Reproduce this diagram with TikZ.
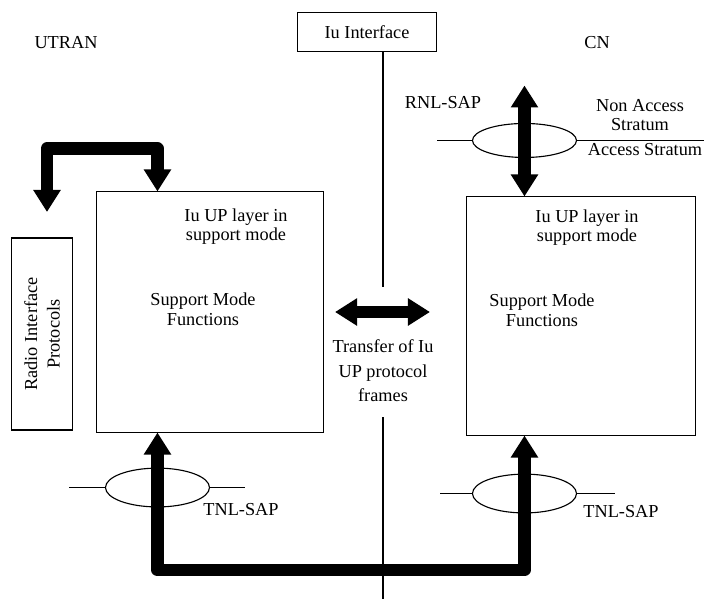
\documentclass[tikz,border=0pt]{standalone}
\usepackage{fontspec}
\setmainfont{Liberation Serif}
\usetikzlibrary{arrows.meta,positioning,calc,shapes.geometric}

\begin{document}
\begin{tikzpicture}[
  x=0.025cm, y=-0.025cm,
  font=\fontsize{13}{15}\selectfont,
  box/.style={draw,line width=0.7pt,inner sep=0pt},
  frame/.style={draw,line width=1.1pt,inner sep=2pt,align=center},
  sap/.style={draw,ellipse,line width=0.8pt,minimum width=2.6cm,minimum height=0.97cm,inner sep=0pt},
  lbl/.style={align=center,inner sep=0pt,font=\fontsize{13}{14}\selectfont},
  fat/.style={line width=0.31cm,line join=round,<->,>={Triangle[length=0.55cm,width=0.65cm]}},
  iface/.style={line width=0.8pt},
]
\useasboundingbox (0,0) rectangle (704,599);
% domains and interface
\node (utran) at (66,43) {UTRAN};
\node (cn) at (597,43) {CN};
\node[frame,minimum width=3.47cm,minimum height=0.97cm] (iu) at (367,32) {Iu Interface};
\coordinate (ifa) at (383,287);
\coordinate (ifb) at (383,417);
\coordinate (ifc) at (383,599);
\draw[iface] (iu.south -| ifa) -- (ifa);
\draw[iface] (ifb) -- (ifc);
% layer boxes
\node[box,minimum width=5.65cm,minimum height=6cm] (utranbox) at (210,312) {};
\node[box,minimum width=5.7cm,minimum height=5.95cm] (cnbox) at (581,316) {};
\node[frame,rotate=90,minimum width=4.8cm,minimum height=1.52cm,font=\fontsize{13}{16}\selectfont] (rip) at (42,334) {Radio Interface\\Protocols};
\node[lbl] (ulayer) at ($(utranbox.north)+(26,35)$) {Iu UP layer in\\support mode};
\node[lbl] (ufunc) at ($(utranbox.north)+(-7,118)$) {Support Mode\\Functions};
\node[lbl] (clayer) at ($(cnbox.north)+(6,31)$) {Iu UP layer in\\support mode};
\node[lbl] (cfunc) at ($(cnbox.north)+(-39,114)$) {Support Mode\\Functions};
% access points
\coordinate (ua) at ($(utranbox.north west)+(61,0)$);
\coordinate (ub) at ($(utranbox.south west)+(61,0)$);
\coordinate (ca) at ($(cnbox.north west)+(58,0)$);
\coordinate (cb) at ($(cnbox.south west)+(58,0)$);
\node[sap,minimum height=0.85cm] (rnl) at ($(ca)+(0,-56)$) {};
\node[sap] (tnlu) at ($(ub)+(0,55)$) {};
\node[sap] (tnlc) at ($(cb)+(0,58)$) {};
\draw[iface] (rnl.west) -- +(-35,0);
\draw[iface] (rnl.east) -- +(132,0);
\draw[iface] (tnlu.west) -- +(-36,0);
\draw[iface] (tnlu.east) -- +(35,0);
\draw[iface] (tnlc.west) -- +(-32,0);
\draw[iface] (tnlc.east) -- +(38,0);
\node (rnllbl) at (443,103) {RNL-SAP};
\node[lbl] (nas) at (640,115) {Non Access\\Stratum};
\node (as) at (645,150) {Access Stratum};
\node (tnlulbl) at (241,510) {TNL-SAP};
\node (tnlclbl) at (621,512) {TNL-SAP};
% flows
\coordinate (ripin) at (47,212);
\coordinate (bus) at (340,570);
\coordinate (rnltop) at ($(ca)+(0,-111)$);
\coordinate (tfl) at (335,312);
\coordinate (tfr) at (430,312);
\draw[fat] (ua) -- ++(0,-43) -| (ripin);
\draw[fat] (ub) |- (bus) -| (cb);
\draw[fat] (rnltop) -- (ca);
\draw[fat] (tfl) -- (tfr);
\node[lbl,font=\fontsize{13}{17.4}\selectfont] (tflbl) at (383,371) {Transfer of Iu\\UP protocol\\frames};
\end{tikzpicture}
\end{document}
